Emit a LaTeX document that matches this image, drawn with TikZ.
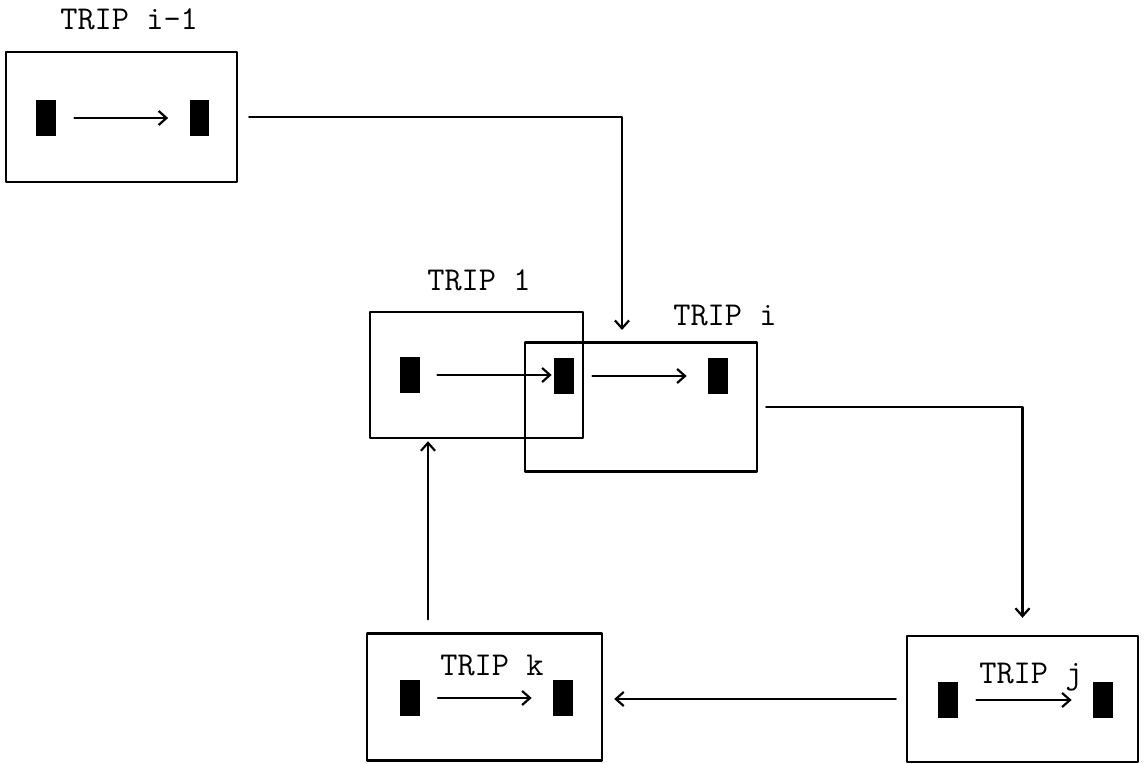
\documentclass[tikz,border=0pt]{standalone}
\usetikzlibrary{arrows.meta}

\begin{document}
\begin{tikzpicture}[line join=round, line cap=round, x=0.02cm, y=-0.02cm,
    tripbox/.style={draw, line width=1.4pt, inner sep=0pt},
    blk/.style={fill=black, inner sep=0pt, minimum width=0.4cm, minimum height=0.72cm},
    flow/.style={-{Straight Barb[length=4.5pt,width=8pt]}, line width=1.25pt},
    lbl/.style={anchor=base west, inner sep=0pt, font=\ttfamily\fontsize{19}{22}\selectfont}]
    % page frame (pixels of the reference, y downwards)
    \useasboundingbox (0,0) rectangle (1144,764);

    % trip boxes
    \node[tripbox, minimum width=4.62cm, minimum height=2.60cm] (tim1) at (121.5,117) {};
    \node[tripbox, minimum width=4.26cm, minimum height=2.52cm] (t1) at (476.5,375) {};
    \node[tripbox, minimum width=4.64cm, minimum height=2.58cm] (ti) at (641,407) {};
    \node[tripbox, minimum width=4.70cm, minimum height=2.54cm] (tk) at (484.5,697) {};
    \node[tripbox, minimum width=4.62cm, minimum height=2.52cm] (tj) at (1022.5,699) {};

    % labels
    \node[lbl] (lim1) at (60,30) {TRIP i-1};
    \node[lbl] (l1) at (427,290) {TRIP 1};
    \node[lbl] (li) at (673,325) {TRIP i};
    \node[lbl] (lk) at (440,675) {TRIP k};
    \node[lbl] (lj) at (979,683) {TRIP j};

    % stops (black blocks)
    \node[blk] (a1) at (46,118) {};
    \node[blk] (a2) at (199.5,118) {};
    \node[blk] (b1) at (410,375) {};
    \node[blk] (b2) at (564,376) {};
    \node[blk] (b3) at (718,376) {};
    \node[blk] (c1) at (409.5,698) {};
    \node[blk] (c2) at (563,698) {};
    \node[blk] (d1) at (948,700) {};
    \node[blk] (d2) at (1103,700) {};

    % arrows inside the trips
    \foreach \s/\e in {a1/a2, b2/b3, c1/c2, d1/d2} {
      \draw[flow, shorten <=0.36cm, shorten >=0.42cm] (\s.east) -- (\s.east -| \e.west);
    }
    \draw[flow, shorten <=0.34cm, shorten >=0.04cm] (b1.east) -- (b1.east -| b2.west);

    % links between trips
    \coordinate (drop) at (622,330);
    \coordinate (rise) at (428,0);
    \draw[flow, shorten <=0.22cm] (tim1.east) -| (drop);
    \draw[flow, shorten <=0.16cm, shorten >=0.34cm] (ti.east) -| (tj.north);
    \draw[flow, shorten <=0.20cm, shorten >=0.22cm] (tj.west) -- (tj.west -| tk.east);
    \draw[flow, shorten <=0.26cm, shorten >=0.04cm] (tk.north -| rise) -- (t1.south -| rise);
  \end{tikzpicture}
\end{document}
